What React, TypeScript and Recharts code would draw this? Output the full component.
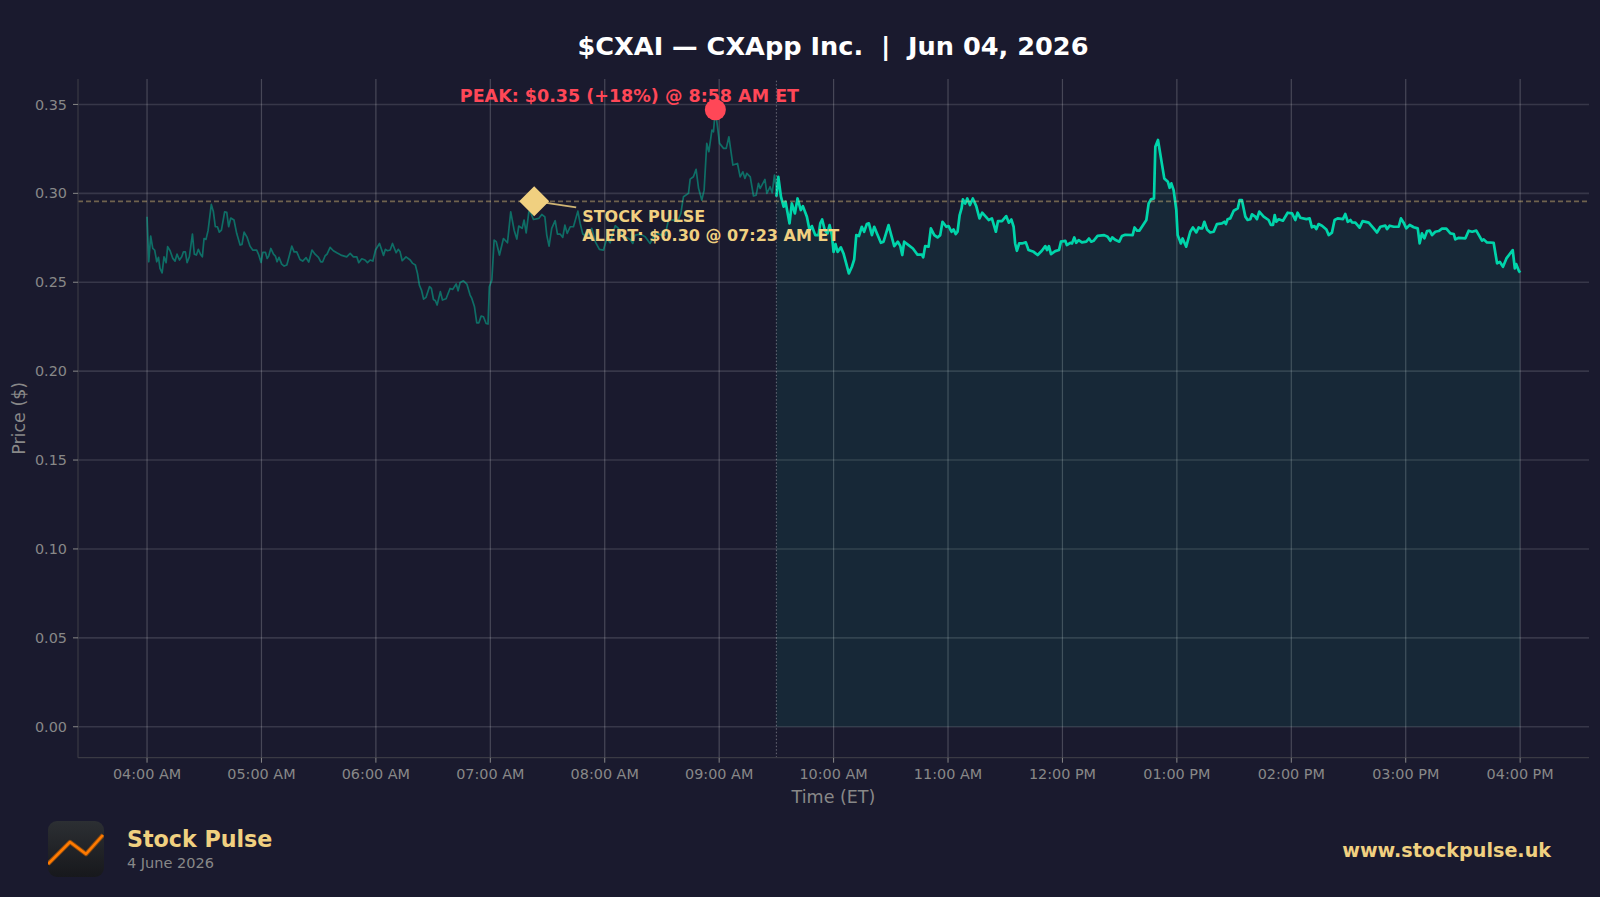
import { useMemo } from "react";
import {
  ComposedChart,
  Line,
  Area,
  XAxis,
  YAxis,
  CartesianGrid,
  ReferenceLine,
  ReferenceDot,
} from "recharts";

const FONT = "'DejaVu Sans', sans-serif";
const TEAL = "#00d4aa";
const GOLD = "#f0d080";
const RED = "#ff4757";
const MUTED = "#888888";

// minutes after 04:00 AM ET
const hourTicks = [0, 60, 120, 180, 240, 300, 360, 420, 480, 540, 600, 660, 720];
const hourLabels = [
  "04:00 AM", "05:00 AM", "06:00 AM", "07:00 AM", "08:00 AM", "09:00 AM", "10:00 AM",
  "11:00 AM", "12:00 PM", "01:00 PM", "02:00 PM", "03:00 PM", "04:00 PM",
];
const priceTicks = [0, 0.05, 0.1, 0.15, 0.2, 0.25, 0.3, 0.35];

const OPEN_MINUTE = 330;
const peakMinute = 298;
const peakPrice = 0.347;
const alertMinute = 203;
const alertPrice = 0.2955;

// pre-market session
const preMinutes = [
  0, 0.9, 1.9, 3, 4, 5.1, 6, 6.8, 7.9, 8.9, 10, 10.8, 12.1, 13.5, 14.7, 15.7, 17, 18.2, 19.1, 20.1,
  21, 22.2, 23.8, 24.8, 25.9, 26.9, 28, 29, 29.9, 30.9, 32, 33.7, 34.8, 35.8, 36.9, 37.9, 39, 40.7, 41.8, 42.8,
  43.9, 45.6, 47, 48.8, 49.8, 50.9, 52.5, 54, 55.4, 57.5, 58.6, 59.8, 60.7, 62.1, 63, 63.8, 64.9, 66.3, 67.3, 68.2,
  69.2, 70.6, 71.9, 73.3, 74.7, 75.9, 77.1, 78.5, 80.2, 81.6, 83.4, 84.8, 86.5, 88.1, 89.9, 91.1, 92.1, 93.4, 94.4, 96,
  97.7, 99.5, 102.1, 104.7, 106.5, 108.2, 110, 111, 112.6, 114.3, 115.6, 117, 118.4, 119.8, 121.9, 124, 125, 126.1, 127.5, 128.7,
  130.6, 131.7, 132.7, 133.8, 135.8, 138, 139.3, 140.7, 141.8, 142.8, 143.9, 145, 146.3, 148.1, 149.1, 150.2, 151.2, 152.1, 153.8, 154.9,
  156.8, 158.9, 160.3, 162.1, 163.1, 164.2, 165.9, 167.7, 169.4, 170.3, 171.7, 172.9, 174, 175.2, 176.4, 177.8, 178.8, 179.5, 180.8, 182,
  183.1, 184.8, 186.9, 189, 190.7, 192.5, 193.9, 194.9, 196.7, 197.7, 198.8, 200.2, 201.2, 202.6, 205.4, 207, 208.6, 209.6, 210.8, 212.2,
  214, 215.2, 216.6, 218, 219.1, 220.3, 221.9, 223.6, 225.9, 227.1, 228.5, 230.6, 233.2, 235, 237.2, 239.3, 241.1, 242.8, 245.5, 247.2,
  249, 250.7, 253.3, 254.7, 255.9, 258.6, 261.2, 263.8, 265.6, 267.3, 269.9, 271.7, 273.4, 276, 278.2, 279.9, 281.3, 283.9, 284.8, 286.5,
  287.9, 289.2, 290.9, 292.1, 293.5, 294.6, 296.2, 297, 298, 300.2, 302.3, 303.7, 305.1, 307.2, 309.6, 311, 312.4, 313.5, 314.5, 316.3,
  318, 319.4, 320.6, 321.5, 324, 325, 326.7, 327.8, 329, 330,
];
const prePrices = [
  0.2868, 0.2615, 0.276, 0.269, 0.2681, 0.2615, 0.264, 0.2578, 0.2553, 0.2643, 0.261, 0.27, 0.2677, 0.2634, 0.2619, 0.2658, 0.2625, 0.2643, 0.2671, 0.2671,
  0.261, 0.2643, 0.2771, 0.2658, 0.2653, 0.2685, 0.2658, 0.2643, 0.2746, 0.2741, 0.279, 0.2938, 0.2896, 0.2812, 0.2812, 0.2782, 0.2793, 0.2896, 0.2893, 0.2812,
  0.2861, 0.285, 0.2775, 0.2709, 0.2713, 0.2782, 0.2752, 0.2703, 0.2681, 0.2681, 0.2653, 0.2611, 0.2668, 0.2668, 0.2634, 0.2647, 0.269, 0.2658, 0.2647, 0.2615,
  0.264, 0.2602, 0.2591, 0.2597, 0.2653, 0.2703, 0.2671, 0.2671, 0.2628, 0.2619, 0.2638, 0.2613, 0.2681, 0.2658, 0.264, 0.2615, 0.2615, 0.2649, 0.2658, 0.2696,
  0.2677, 0.2666, 0.2651, 0.2643, 0.2662, 0.2643, 0.2643, 0.261, 0.2632, 0.2625, 0.261, 0.2625, 0.2619, 0.2681, 0.2718, 0.2651, 0.2685, 0.2677, 0.2681, 0.2718,
  0.2666, 0.2685, 0.2671, 0.2621, 0.2643, 0.2625, 0.2606, 0.2597, 0.255, 0.2484, 0.2456, 0.2405, 0.2415, 0.2475, 0.2465, 0.2403, 0.2396, 0.2372, 0.2447, 0.24,
  0.2407, 0.2465, 0.246, 0.249, 0.2452, 0.2499, 0.2508, 0.249, 0.2428, 0.2409, 0.2362, 0.2272, 0.2272, 0.231, 0.2306, 0.2268, 0.2265, 0.2475, 0.2512, 0.2737,
  0.2728, 0.2653, 0.2746, 0.2722, 0.2896, 0.2793, 0.2743, 0.2816, 0.2803, 0.285, 0.2778, 0.2896, 0.2891, 0.2853, 0.2859, 0.2881, 0.2868, 0.2765, 0.2703, 0.2803,
  0.2846, 0.2771, 0.2771, 0.2752, 0.2821, 0.2775, 0.2812, 0.2812, 0.29, 0.2831, 0.2771, 0.2756, 0.2803, 0.2728, 0.2685, 0.2681, 0.2746, 0.2722, 0.2818, 0.2803,
  0.2765, 0.2756, 0.2741, 0.2718, 0.2765, 0.2771, 0.2756, 0.2718, 0.2756, 0.2775, 0.2765, 0.2765, 0.285, 0.285, 0.284, 0.2887, 0.2981, 0.3, 0.308, 0.3093,
  0.3135, 0.3028, 0.2962, 0.3018, 0.3281, 0.3234, 0.3356, 0.3346, 0.347, 0.3281, 0.3253, 0.3253, 0.3318, 0.3159, 0.3168, 0.3093, 0.3121, 0.3084, 0.3112, 0.3093,
  0.2985, 0.299, 0.3056, 0.3028, 0.3078, 0.3, 0.3037, 0.3003, 0.3103, 0.3018,
];

// regular session
const regMinutes = [
  330, 331, 332.4, 333.8, 334.8, 336.9, 338.1, 339.7, 341.1, 342.8, 343.9, 346, 347.4, 348.6, 350.4, 352.1, 353, 354, 355.4, 356.8,
  357.9, 359.1, 360, 361, 362.1, 363.8, 365.2, 366.4, 368, 369.6, 370.8, 371.9, 373.3, 374.8, 376, 377.4, 378.5, 380.1, 381.3, 382.7,
  384.8, 386.2, 388.8, 391.8, 393.7, 395, 396, 397, 399.3, 401.6, 404, 406.3, 407, 408, 409.8, 411, 412.8, 414.5, 415.9, 417.1,
  419.1, 420.3, 421.8, 422.9, 424, 425, 426.1, 427.1, 427.8, 429, 430.1, 431.5, 433, 434.8, 436.5, 437.9, 439.9, 441.3, 443, 443.9,
  445.1, 446.2, 448.3, 450.5, 451.9, 453.2, 454.4, 455.2, 456.1, 457.3, 458.7, 460.8, 462.2, 464.9, 467, 469.2, 471, 471.9, 472.9, 474,
  476.2, 478.2, 479.2, 481.5, 482.3, 484.1, 485, 486.2, 487.2, 488.5, 490.2, 492.5, 493.9, 495.1, 496.3, 498.4, 501.9, 503.7, 505.1, 506.1,
  507.9, 509.8, 511.2, 512.9, 516.8, 517.8, 519.1, 520.3, 522.2, 524, 525.2, 526.4, 528, 528.7, 530.1, 533.4, 535.3, 536.2, 537.1, 538.3,
  539.7, 540.4, 541.3, 542.1, 543, 544.9, 547, 548.4, 550.2, 551.4, 552.3, 553.3, 554.4, 555.8, 557.5, 559.3, 561, 563.6, 564.9, 565.7,
  566.6, 568, 569.8, 571.9, 572.9, 574.1, 575.9, 577.1, 578.5, 579.4, 581.1, 582, 583.2, 585.5, 588.1, 589.3, 590.4, 591.3, 592.1, 593.4,
  595.6, 598.1, 600.4, 602.1, 603.3, 604.7, 607.9, 609.6, 610.8, 612.1, 613.1, 614.3, 616.1, 618.4, 619.6, 621.3, 622.7, 624.3, 627.1, 628.3,
  629.6, 631, 631.8, 633.6, 635.8, 637.4, 640.6, 643.2, 644.9, 646.7, 649.3, 650.2, 651.6, 653.7, 656.3, 657.5, 658.9, 660.3, 662.1, 664.2,
  666.3, 667.3, 668.5, 669.8, 671.2, 672.6, 673.8, 675.5, 677.3, 679, 681.3, 683.4, 685.2, 686, 687.8, 691.3, 693, 694.8, 697, 700,
  700.9, 702.6, 706.1, 707.9, 709.3, 711, 712.8, 716.1, 717.2, 717.9, 719.3, 720,
];
const regPrices = [
  0.2981, 0.3093, 0.2981, 0.2925, 0.2953, 0.2831, 0.2943, 0.2887, 0.2971, 0.2906, 0.2928, 0.2868, 0.2793, 0.2816, 0.2765, 0.2765, 0.2831, 0.2853, 0.2793, 0.2775,
  0.2821, 0.2765, 0.2671, 0.2715, 0.2671, 0.2696, 0.2662, 0.2615, 0.255, 0.2587, 0.2628, 0.2765, 0.276, 0.2812, 0.2784, 0.2827, 0.2831, 0.2765, 0.2812, 0.2775,
  0.2722, 0.2728, 0.2821, 0.2703, 0.2728, 0.2703, 0.2653, 0.2728, 0.2709, 0.269, 0.2655, 0.2655, 0.264, 0.2703, 0.27, 0.2803, 0.2765, 0.2752, 0.2765, 0.284,
  0.2812, 0.2816, 0.2784, 0.2797, 0.2771, 0.2784, 0.2878, 0.2915, 0.2966, 0.2943, 0.2971, 0.2934, 0.2971, 0.2928, 0.2859, 0.2891, 0.2868, 0.285, 0.2859, 0.2827,
  0.2784, 0.2844, 0.2844, 0.2872, 0.2835, 0.2853, 0.2812, 0.2718, 0.2677, 0.2718, 0.2718, 0.2724, 0.2681, 0.2671, 0.2653, 0.2677, 0.2703, 0.2681, 0.2703, 0.2658,
  0.2675, 0.2681, 0.2728, 0.2733, 0.2709, 0.2722, 0.2718, 0.2752, 0.2722, 0.2737, 0.2724, 0.2728, 0.2746, 0.2728, 0.2733, 0.2761, 0.2765, 0.2756, 0.2733, 0.2752,
  0.2737, 0.2728, 0.276, 0.2767, 0.2765, 0.2808, 0.279, 0.279, 0.2821, 0.285, 0.2943, 0.2966, 0.2971, 0.3262, 0.33, 0.3084, 0.3065, 0.3031, 0.3056, 0.3018,
  0.2906, 0.2765, 0.2741, 0.2718, 0.2746, 0.27, 0.2784, 0.2808, 0.278, 0.2808, 0.2803, 0.2803, 0.284, 0.2797, 0.278, 0.2784, 0.2827, 0.2831, 0.284, 0.2827,
  0.2854, 0.2859, 0.2902, 0.2915, 0.2962, 0.2962, 0.2869, 0.285, 0.2854, 0.2882, 0.2869, 0.2855, 0.2897, 0.2869, 0.285, 0.2822, 0.2822, 0.2878, 0.284, 0.2854,
  0.2846, 0.2891, 0.2887, 0.285, 0.2891, 0.2863, 0.2855, 0.2859, 0.2809, 0.2816, 0.2799, 0.2827, 0.2818, 0.2797, 0.2765, 0.2779, 0.285, 0.2859, 0.2855, 0.2884,
  0.284, 0.285, 0.2837, 0.2835, 0.2807, 0.2844, 0.2835, 0.2803, 0.278, 0.2812, 0.2818, 0.2799, 0.2818, 0.2812, 0.2812, 0.2859, 0.2835, 0.2803, 0.2822, 0.2809,
  0.2803, 0.2719, 0.2775, 0.2747, 0.2788, 0.279, 0.2765, 0.2784, 0.2788, 0.2801, 0.2801, 0.2775, 0.2771, 0.2741, 0.275, 0.2747, 0.279, 0.2784, 0.279, 0.2734,
  0.2741, 0.2724, 0.2722, 0.2606, 0.2615, 0.2587, 0.2634, 0.2681, 0.2578, 0.2602, 0.2565, 0.2554,
];

function PeakMarker({ cx, cy }: any) {
  return (
    <g>
      <circle cx={cx} cy={cy} r={10.5} fill={RED} />
      <text x={cx - 255.5} y={cy - 8} fill={RED} fontFamily={FONT} fontSize={17.5} fontWeight={700}>
        PEAK: $0.35 (+18%) @ 8:58 AM ET
      </text>
    </g>
  );
}

function AlertMarker({ cx, cy }: any) {
  const size = 15;
  return (
    <g>
      <line x1={cx + 12} y1={cy + 1.5} x2={cx + 42} y2={cy + 6} stroke={GOLD} strokeOpacity={0.85} strokeWidth={1.9} />
      <path
        d={`M${cx - size},${cy} L${cx},${cy - size} L${cx + size},${cy} L${cx},${cy + size} Z`}
        fill={GOLD}
      />
      <text x={cx + 48} y={cy + 20.5} fill={GOLD} fontFamily={FONT} fontSize={16} fontWeight={700}>
        STOCK PULSE
      </text>
      <text x={cx + 48} y={cy + 40} fill={GOLD} fontFamily={FONT} fontSize={16} fontWeight={700}>
        ALERT: $0.30 @ 07:23 AM ET
      </text>
    </g>
  );
}

function Logo() {
  return (
    <svg width={56} height={56} style={{ position: "absolute", left: 48, top: 821 }}>
      <defs>
        <linearGradient id="logoBg" x1="0" y1="0" x2="0" y2="1">
          <stop offset="0%" stopColor="#2c2f33" />
          <stop offset="100%" stopColor="#17181c" />
        </linearGradient>
      </defs>
      <rect x={0} y={0} width={56} height={56} rx={9} fill="url(#logoBg)" />
      <polyline points="0,43 22,21 38,33 55,14" fill="none" stroke="#8a4a10" strokeWidth={4.5} strokeLinejoin="round" />
      <polyline points="0,43 22,21 38,33 55,14" fill="none" stroke="#ff7a00" strokeWidth={2.6} strokeLinejoin="round" />
    </svg>
  );
}

export default function App() {
  const chartData = useMemo(() => {
    const rows = preMinutes.map((minute, i) => ({ minute, pre: prePrices[i] } as any));
    regMinutes.forEach((minute, i) => {
      if (minute === OPEN_MINUTE) rows[rows.length - 1].reg = regPrices[i];
      else rows.push({ minute, reg: regPrices[i] });
    });
    return rows;
  }, []);

  const tickStyle = { fill: MUTED, fontSize: 14.4, fontFamily: FONT };

  return (
    <div style={{ position: "absolute", left: 0, top: 0, width: 1600, height: 897, background: "#1a1a2e", overflow: "hidden" }}>
      <div
        style={{
          position: "absolute", left: 0, width: 1666, top: 28, textAlign: "center",
          color: "#ffffff", fontFamily: FONT, fontSize: 25.6, fontWeight: 700, lineHeight: "36px", whiteSpace: "pre",
        }}
      >
        {"$CXAI — CXApp Inc.  |  Jun 04, 2026"}
      </div>

      <ComposedChart
        width={1600}
        height={897}
        data={chartData}
        margin={{ top: 79, right: 11, bottom: 0, left: 0 }}
        style={{ position: "absolute", left: 0, top: 0 }}
      >
        <XAxis
          dataKey="minute"
          type="number"
          domain={[-36.2, 756.1]}
          ticks={hourTicks}
          tickFormatter={(m: number) => hourLabels[hourTicks.indexOf(m)]}
          height={139.3}
          tick={tickStyle}
          tickLine={{ stroke: MUTED }}
          tickSize={5}
          tickMargin={6}
          axisLine={{ stroke: "#3a3a44", strokeWidth: 1.2 }}
          interval={0}
          label={{ value: "Time (ET)", position: "insideTop", offset: 33, fill: MUTED, fontSize: 17.5, fontFamily: FONT }}
        />
        <YAxis
          type="number"
          domain={[-0.0174, 0.3643]}
          ticks={priceTicks}
          tickFormatter={(v: number) => v.toFixed(2)}
          width={78}
          tick={tickStyle}
          tickLine={{ stroke: MUTED }}
          tickSize={5}
          tickMargin={6}
          axisLine={{ stroke: "#3a3a44", strokeWidth: 1.2 }}
          allowDataOverflow
          label={{ value: "Price ($)", angle: -90, position: "insideLeft", offset: 19, textAnchor: "middle", fill: MUTED, fontSize: 17.5, fontFamily: FONT }}
        />
        <Area
          dataKey="reg"
          stroke={TEAL}
          strokeWidth={2.7}
          strokeLinejoin="round"
          fill={TEAL}
          fillOpacity={0.08}
          type="linear"
          dot={false}
          activeDot={false}
          isAnimationActive={false}
        />
        <Line
          dataKey="pre"
          stroke={TEAL}
          strokeOpacity={0.45}
          strokeWidth={1.7}
          strokeLinejoin="round"
          type="linear"
          dot={false}
          activeDot={false}
          isAnimationActive={false}
        />
        <CartesianGrid vertical={false} horizontalValues={priceTicks} stroke="rgba(255,255,255,0.13)" strokeWidth={1.6} />
        <CartesianGrid horizontal={false} verticalValues={hourTicks} stroke="rgba(255,255,255,0.2)" strokeWidth={1.2} />
        <ReferenceLine x={OPEN_MINUTE} stroke="rgba(255,255,255,0.35)" strokeDasharray="1.5 2" />
        <ReferenceLine y={alertPrice} stroke={GOLD} strokeOpacity={0.4} strokeWidth={1.6} strokeDasharray="5 3" />
        <ReferenceDot x={alertMinute} y={alertPrice} shape={AlertMarker} ifOverflow="visible" />
        <ReferenceDot x={peakMinute} y={peakPrice} shape={PeakMarker} ifOverflow="visible" />
      </ComposedChart>

      <Logo />
      <div style={{ position: "absolute", left: 127, top: 825, color: GOLD, fontFamily: FONT, fontSize: 22.2, fontWeight: 700, lineHeight: "28px" }}>
        Stock Pulse
      </div>
      <div style={{ position: "absolute", left: 127, top: 853, color: MUTED, fontFamily: FONT, fontSize: 14.5, lineHeight: "20px" }}>
        4 June 2026
      </div>
      <div style={{ position: "absolute", right: 49, top: 838, color: GOLD, fontFamily: FONT, fontSize: 19.15, fontWeight: 700, lineHeight: "26px" }}>
        www.stockpulse.uk
      </div>
    </div>
  );
}
